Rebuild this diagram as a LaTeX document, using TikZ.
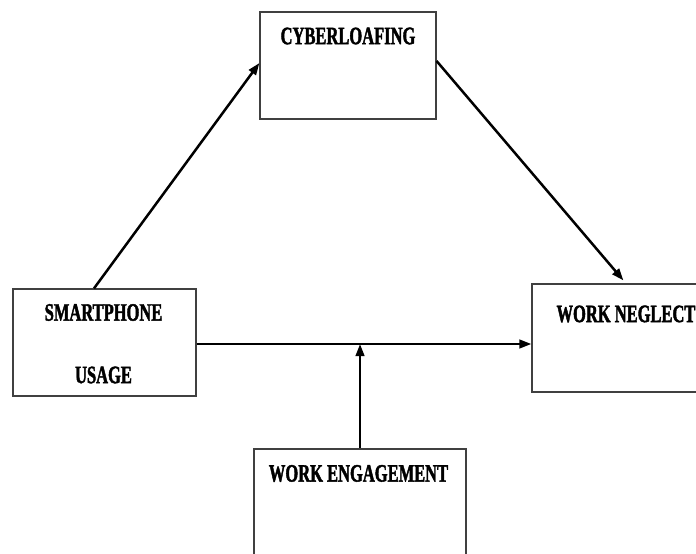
\documentclass[tikz,border=0pt]{standalone}
\usepackage{fontspec}
\newfontfamily\labelfont[FakeStretch=0.66,FakeBold=1.6]{Liberation Serif}
\usetikzlibrary{arrows.meta,calc}

\tikzset{
  box/.style={draw=black!75, line width=1.2pt, rectangle, inner sep=0pt},
  boxlabel/.style={inner sep=0pt, font=\labelfont\bfseries\fontsize{25}{27}\selectfont, text=black},
  link/.style={line width=2.5pt, -{Triangle[length=12pt,width=8.5pt]}},
}

\begin{document}
\begin{tikzpicture}[x=1pt, y=-1pt]
  \useasboundingbox (0,0) rectangle (696,554);

  % boxes
  \node[box, minimum width=176pt, minimum height=107pt] (cyber) at (348,65.5) {};
  \node[box, minimum width=183pt, minimum height=107pt] (smart) at (104.5,342.5) {};
  \node[box, minimum width=168pt, minimum height=108pt] (neglect) at (616,338) {};
  \node[box, minimum width=212pt, minimum height=111pt] (engage) at (360,504.5) {};

  % labels
  \node[boxlabel] (cyberT) at (348,36) {CYBERLOAFING};
  \node[boxlabel] (smartT) at (103.5,312.5) {SMARTPHONE};
  \node[boxlabel] (usageT) at (103.5,375) {USAGE};
  \node[boxlabel] (neglectT) at (626,314) {WORK NEGLECT};
  \node[boxlabel] (engageT) at (358.5,473.5) {WORK ENGAGEMENT};

  % connection points
  \coordinate (junction) at (360,344);
  \coordinate (smartTop) at ($(smart.north)+(-10.5,0)$);
  \coordinate (cyberIn) at (cyber.west |- 0,63);
  \coordinate (cyberOut) at (cyber.east |- 0,61);
  \coordinate (neglectTop) at ($(neglect.north west)+(92,-3)$);

  % paths
  \draw[link] (smartTop) -- (cyberIn);
  \draw[link] (cyberOut) -- (neglectTop);
  \draw[link] (smart.east |- junction) -- (neglect.west |- junction);
  \draw[link] (engage.north -| junction) -- (junction);
\end{tikzpicture}
\end{document}
